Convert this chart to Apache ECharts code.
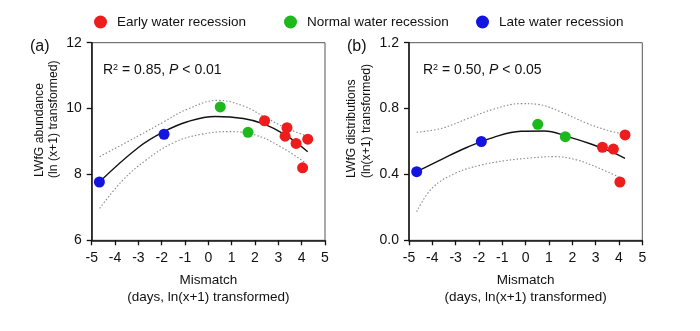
<!DOCTYPE html>
<html>
<head>
<meta charset="utf-8">
<script src="https://cdn.jsdelivr.net/npm/echarts@6/dist/echarts.min.js"></script>
<style>html,body{margin:0;padding:0;background:#fff}#c{width:700px;height:331px}</style>
</head>
<body>
<div id="c"></div>
<script>
// ---- data ----
const seriesNames = ['Early water recession', 'Normal water recession', 'Late water recession'];
const xTicks = [-5, -4, -3, -2, -1, 0, 1, 2, 3, 4, 5];
const yTicksA = [6, 8, 10, 12];
const yTicksB = [0, 0.4, 0.8, 1.2];

// Panel (a): LWfG abundance
const earlyA = [[2.41, 9.63], [3.37, 9.42], [3.29, 9.16], [3.76, 8.94], [4.26, 9.07], [4.04, 8.20]];
const normalA = [[0.51, 10.05], [1.70, 9.28]];
const lateA = [[-4.67, 7.77], [-1.90, 9.22]];
const fitA = [[-4.66, 7.78], [-3.0, 8.82], [-1.9, 9.30], [-0.9, 9.60], [0.3, 9.76], [1.5, 9.70], [2.4, 9.53], [3.3, 9.20], [4.26, 8.69]];
const upperA = [[-4.66, 8.54], [-3.0, 9.17], [-1.9, 9.60], [-0.9, 9.98], [0.4, 10.25], [1.5, 10.08], [2.4, 9.75], [3.3, 9.42], [4.21, 9.17]];
const lowerA = [[-4.66, 6.97], [-3.7, 7.80], [-2.7, 8.42], [-1.5, 8.96], [-0.3, 9.22], [0.9, 9.30], [2.0, 9.20], [3.1, 8.84], [4.14, 8.36]];

// Panel (b): LWfG distributions
const earlyB = [[3.29, 0.565], [3.76, 0.554], [4.26, 0.640], [4.04, 0.354]];
const normalB = [[0.52, 0.704], [1.70, 0.629]];
const lateB = [[-4.67, 0.417], [-1.90, 0.600]];
const fitB = [[-4.67, 0.417], [-3.6, 0.492], [-2.5, 0.565], [-1.4, 0.624], [-0.2, 0.662], [0.8, 0.664], [1.8, 0.630], [2.8, 0.585], [3.6, 0.541], [4.26, 0.498]];
const upperB = [[-4.67, 0.656], [-3.6, 0.680], [-2.5, 0.738], [-1.4, 0.795], [-0.2, 0.830], [0.5, 0.826], [1.5, 0.780], [2.6, 0.712], [3.5, 0.668], [4.19, 0.645]];
const lowerB = [[-4.67, 0.174], [-4.0, 0.318], [-3.0, 0.408], [-1.9, 0.457], [-0.9, 0.483], [0.2, 0.500], [1.2, 0.508], [2.2, 0.488], [3.1, 0.441], [4.01, 0.383]];

// ---- styles ----
const FONT = "'Liberation Sans', Arial, sans-serif";
const colors = ['#ee1c1c', '#1cb81c', '#1414e0'];
const textColor = '#111';

function xAxis(gridIndex) {
  return {
    type: 'value', gridIndex, min: xTicks[0], max: xTicks[xTicks.length - 1], interval: 1,
    name: 'Mismatch\n(days, ln(x+1) transformed)', nameLocation: 'middle', nameGap: 31,
    nameTextStyle: { fontFamily: FONT, fontSize: 13.5, color: textColor, lineHeight: 17 },
    axisLine: { onZero: false, lineStyle: { color: '#111', width: 1.5 } },
    axisTick: { show: true, length: 5, lineStyle: { color: '#111', width: 1.3 } },
    axisLabel: { fontFamily: FONT, fontSize: 14, color: textColor, margin: 11 },
    splitLine: { show: false }
  };
}
function yAxis(gridIndex, ticks, digits) {
  return {
    type: 'value', gridIndex, min: ticks[0], max: ticks[ticks.length - 1], interval: ticks[1] - ticks[0],
    axisLine: { show: true, onZero: false, lineStyle: { color: '#111', width: 1.5 } },
    axisTick: { show: true, length: 5, lineStyle: { color: '#111', width: 1.3 } },
    axisLabel: { fontFamily: FONT, fontSize: 14, color: textColor, margin: 10,
      formatter: v => v.toFixed(digits) },
    splitLine: { show: false }
  };
}
function curve(data, idx, dotted) {
  return {
    type: 'line', xAxisIndex: idx, yAxisIndex: idx, data, smooth: 0.4, symbol: 'none', silent: true,
    lineStyle: dotted ? { color: '#8a8a8a', width: 1.1, type: [1.5, 2] } : { color: '#111', width: 1.4 },
    z: 2
  };
}
function pts(name, data, idx, ci) {
  return {
    type: 'scatter', name, xAxisIndex: idx, yAxisIndex: idx, data, symbol: 'circle', symbolSize: 11,
    itemStyle: { color: colors[ci], opacity: 1 }, z: 5
  };
}
function legend(name, left) {
  return {
    data: [{ name, icon: 'circle' }], left, top: 15, padding: 0, itemWidth: 13, itemHeight: 13,
    textStyle: { fontFamily: FONT, fontSize: 13.5, color: textColor, padding: [0, 0, 0, 5] },
    selectedMode: false
  };
}
const rich = {
  n: { fontFamily: FONT, fontSize: 14, fill: textColor },
  s: { fontFamily: FONT, fontSize: 9, fill: textColor, verticalAlign: 'top', padding: [0, 0, 6, 0] },
  i: { fontFamily: FONT, fontSize: 14, fontStyle: 'italic', fill: textColor }
};
function r2Text(x, r2, p) {
  return {
    type: 'text', left: x, top: 63,
    style: { text: '{n|R}{s|2}{n| = ' + r2 + ', }{i|P}{n| < ' + p + '}', rich, fontFamily: FONT, fontSize: 14 }
  };
}
function yTitle(x, y, txt) {
  return {
    type: 'text', x, y, rotation: Math.PI / 2,
    style: { text: txt, fontFamily: FONT, fontSize: 12.2, fill: textColor, align: 'left', verticalAlign: 'middle' }
  };
}
function panelLabel(x, txt) {
  return { type: 'text', x, y: 47, style: { text: txt, fontFamily: FONT, fontSize: 16, fill: textColor, align: 'left', verticalAlign: 'middle' } };
}

const chart = echarts.init(document.getElementById('c'), null, { renderer: 'canvas' });
chart.setOption({
  backgroundColor: '#fff',
  animation: false,
  legend: [legend(seriesNames[0], 94), legend(seriesNames[1], 284), legend(seriesNames[2], 476)],
  grid: [
    { left: 91.7, right: 375, top: 42.7, bottom: 90.7, show: true, borderColor: '#555', borderWidth: 1, backgroundColor: 'transparent' },
    { left: 409, right: 57.7, top: 42.7, bottom: 90.7, show: true, borderColor: '#555', borderWidth: 1, backgroundColor: 'transparent' }
  ],
  xAxis: [xAxis(0), xAxis(1)],
  yAxis: [yAxis(0, yTicksA, 0), yAxis(1, yTicksB, 1)],
  series: [
    curve(upperA, 0, true), curve(lowerA, 0, true), curve(fitA, 0, false),
    pts(seriesNames[0], earlyA, 0, 0), pts(seriesNames[1], normalA, 0, 1), pts(seriesNames[2], lateA, 0, 2),
    curve(upperB, 1, true), curve(lowerB, 1, true), curve(fitB, 1, false),
    pts(seriesNames[0], earlyB, 1, 0), pts(seriesNames[1], normalB, 1, 1), pts(seriesNames[2], lateB, 1, 2)
  ],
  graphic: [
    panelLabel(30, '(a)'), panelLabel(347, '(b)'),
    r2Text(103, '0.85', '0.01'), r2Text(423, '0.50', '0.05'),
    yTitle(40, 177, 'LWfG abundance'), yTitle(54, 178, '(ln (x+1) transformed)'),
    yTitle(352, 178, 'LWfG distributions'), yTitle(366.5, 178, '(ln(x+1) transformed)')
  ]
});
</script>
</body>
</html>
